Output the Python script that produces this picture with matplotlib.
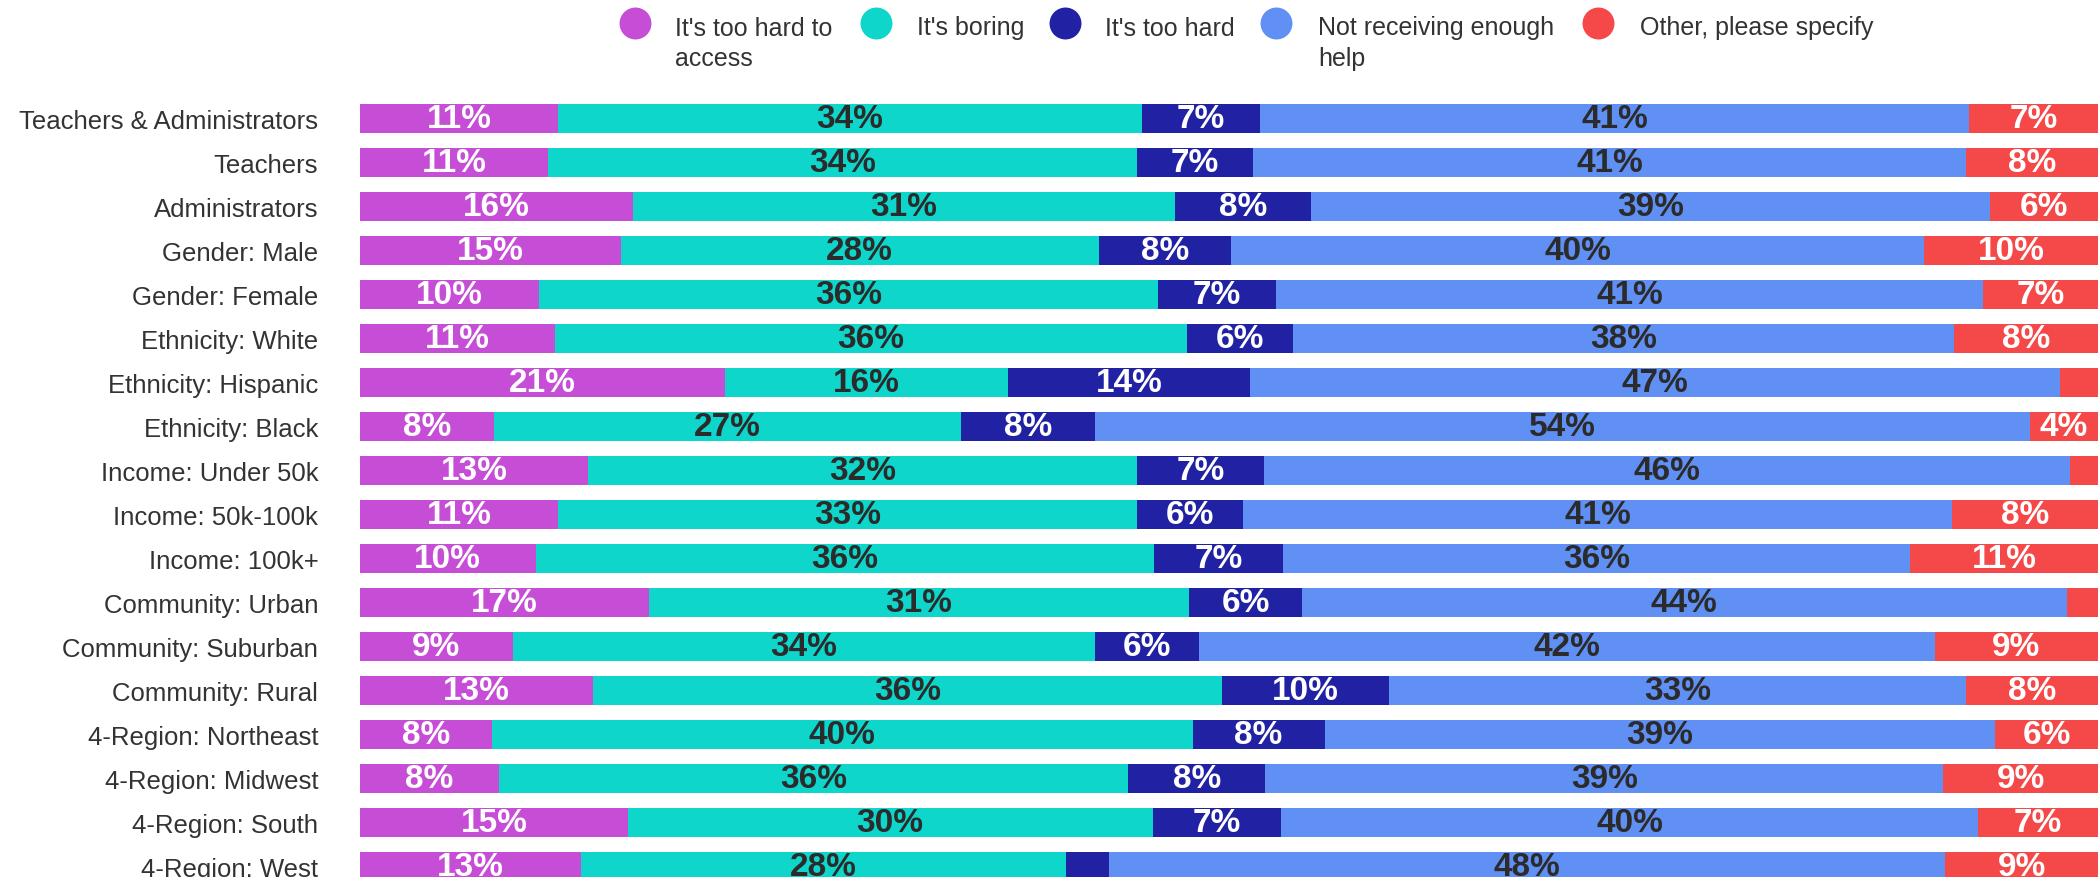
import matplotlib
matplotlib.use("Agg")
import matplotlib.pyplot as plt
from matplotlib.lines import Line2D

categories = [
    "Teachers & Administrators", "Teachers", "Administrators",
    "Gender: Male", "Gender: Female",
    "Ethnicity: White", "Ethnicity: Hispanic", "Ethnicity: Black",
    "Income: Under 50k", "Income: 50k-100k", "Income: 100k+",
    "Community: Urban", "Community: Suburban", "Community: Rural",
    "4-Region: Northeast", "4-Region: Midwest", "4-Region: South", "4-Region: West",
]

series_names = ["It's too hard to\naccess", "It's boring", "It's too hard",
                "Not receiving enough\nhelp", "Other, please specify"]

too_hard_access = [11.4, 10.8, 15.7, 15.0, 10.3, 11.2, 21.0, 7.7, 13.1, 11.4, 10.1, 16.6, 8.8, 13.4, 7.6, 8.0, 15.4, 12.7]
boring          = [33.6, 33.9, 31.2, 27.5, 35.6, 36.4, 16.3, 26.9, 31.6, 33.3, 35.6, 31.1, 33.5, 36.2, 40.3, 36.2, 30.2, 27.9]
too_hard        = [6.8, 6.7, 7.8, 7.6, 6.8, 6.1, 13.9, 7.7, 7.3, 6.1, 7.4, 6.5, 6.0, 9.6, 7.6, 7.9, 7.4, 2.5]
not_enough_help = [40.8, 41.0, 39.1, 39.9, 40.7, 38.0, 46.6, 53.8, 46.4, 40.8, 36.1, 44.0, 42.3, 33.2, 38.6, 39.0, 40.1, 48.1]
other           = [7.4, 7.6, 6.2, 10.0, 6.6, 8.3, 2.2, 3.9, 1.6, 8.4, 10.8, 1.8, 9.4, 7.6, 5.9, 8.9, 6.9, 8.8]

colors = ["#C64DD6", "#0FD6CB", "#2121A4", "#6090F3", "#F54848"]
label_colors = ["white", "#2b2b2b", "white", "#2b2b2b", "white"]

series = [too_hard_access, boring, too_hard, not_enough_help, other]

W, H = 2100, 878
fig = plt.figure(figsize=(W / 100, H / 100), dpi=100)

# axes placement in pixels
ax_left, ax_right = 360, 2098
row0_center, pitch = 119.3, 44.0
ax_top = row0_center - pitch / 2
ax_bottom = H
ax = fig.add_axes([ax_left / W, 0, (ax_right - ax_left) / W, (ax_bottom - ax_top) / H])

n = len(categories)
ypos = list(range(n))
left = [0.0] * n
for vals, col, lc in zip(series, colors, label_colors):
    ax.barh(ypos, vals, left=left, height=0.65, color=col, linewidth=0)
    for i, v in enumerate(vals):
        if v >= 3:
            ax.text(left[i] + v / 2, i, f"{round(v):d}%", ha="center", va="center",
                    color=lc, fontsize=24, fontweight="bold", family="Liberation Sans")
    left = [l + v for l, v in zip(left, vals)]

ax.set_xlim(0, 100)
ax.set_ylim((H - row0_center) / pitch, -0.5)
ax.set_yticks(ypos)
ax.set_yticklabels(categories, fontsize=18.5, color="#333333", family="Liberation Sans")
ax.tick_params(axis="y", length=0, pad=30)
ax.set_xticks([])
for s in ax.spines.values():
    s.set_visible(False)

# legend
circle_x = [635, 876, 1065, 1276, 1598]
text_x = [675, 917, 1105, 1318, 1640]
for cx, tx, col, name in zip(circle_x, text_x, colors, series_names):
    fig.add_artist(Line2D([cx / W], [1 - 24.3 / H], marker="o", markersize=23,
                          markerfacecolor=col, markeredgewidth=0, linestyle="none",
                          transform=fig.transFigure))
    fig.text(tx / W, 1 - 16.5 / H, name, ha="left", va="top", fontsize=18,
             color="#333333", family="Liberation Sans", linespacing=1.33)

fig.savefig("out.png", dpi=100)
